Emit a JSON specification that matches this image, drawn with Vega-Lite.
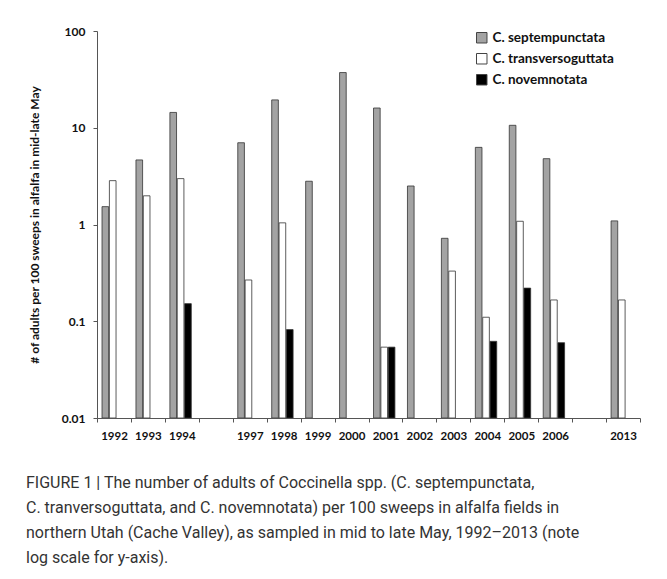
{
  "$schema": "https://vega.github.io/schema/vega-lite/v6.json",
  "autosize": "none",
  "width": 543,
  "height": 387,
  "padding": {"left": 97, "top": 31, "right": 27, "bottom": 161},
  "background": "white",
  "title": {
    "text": [
      "FIGURE 1 | The number of adults of Coccinella spp. (C. septempunctata,",
      "C. tranversoguttata, and C. novemnotata) per 100 sweeps in alfalfa fields in",
      "northern Utah (Cache Valley), as sampled in mid to late May, 1992–2013 (note",
      "log scale for y-axis)."
    ],
    "orient": "bottom",
    "anchor": "start",
    "frame": "group",
    "dx": -71,
    "offset": 33,
    "font": "Roboto, sans-serif",
    "fontSize": 16,
    "fontWeight": "normal",
    "color": "#333333",
    "lineHeight": 25
  },
  "data": {
    "values": [
      {"year": "1992", "species": "C. septempunctata", "value": 1.53},
      {"year": "1992", "species": "C. transversoguttata", "value": 2.84},
      {"year": "1993", "species": "C. septempunctata", "value": 4.65},
      {"year": "1993", "species": "C. transversoguttata", "value": 1.98},
      {"year": "1994", "species": "C. septempunctata", "value": 14.4},
      {"year": "1994", "species": "C. transversoguttata", "value": 2.98},
      {"year": "1994", "species": "C. novemnotata", "value": 0.152},
      {"year": "1997", "species": "C. septempunctata", "value": 7.0},
      {"year": "1997", "species": "C. transversoguttata", "value": 0.267},
      {"year": "1998", "species": "C. septempunctata", "value": 19.4},
      {"year": "1998", "species": "C. transversoguttata", "value": 1.04},
      {"year": "1998", "species": "C. novemnotata", "value": 0.082},
      {"year": "1999", "species": "C. septempunctata", "value": 2.8},
      {"year": "2000", "species": "C. septempunctata", "value": 37.2},
      {"year": "2001", "species": "C. septempunctata", "value": 16.0},
      {"year": "2001", "species": "C. transversoguttata", "value": 0.054},
      {"year": "2001", "species": "C. novemnotata", "value": 0.054},
      {"year": "2002", "species": "C. septempunctata", "value": 2.5},
      {"year": "2003", "species": "C. septempunctata", "value": 0.72},
      {"year": "2003", "species": "C. transversoguttata", "value": 0.33},
      {"year": "2004", "species": "C. septempunctata", "value": 6.27},
      {"year": "2004", "species": "C. transversoguttata", "value": 0.11},
      {"year": "2004", "species": "C. novemnotata", "value": 0.062},
      {"year": "2005", "species": "C. septempunctata", "value": 10.6},
      {"year": "2005", "species": "C. transversoguttata", "value": 1.08},
      {"year": "2005", "species": "C. novemnotata", "value": 0.22},
      {"year": "2006", "species": "C. septempunctata", "value": 4.79},
      {"year": "2006", "species": "C. transversoguttata", "value": 0.166},
      {"year": "2006", "species": "C. novemnotata", "value": 0.06},
      {"year": "2013", "species": "C. septempunctata", "value": 1.09},
      {"year": "2013", "species": "C. transversoguttata", "value": 0.166}
    ]
  },
  "mark": {"type": "bar", "stroke": "#333333", "strokeWidth": 0.8},
  "encoding": {
    "x": {
      "field": "year",
      "type": "nominal",
      "scale": {
        "domain": ["1992", "1993", "1994", "b1", "1997", "1998", "1999", "2000", "2001", "2002", "2003", "2004", "2005", "2006", "b2", "2013"],
        "paddingInner": 0,
        "paddingOuter": 0
      },
      "axis": {
        "title": null,
        "labelAngle": 0,
        "labelExpr": "indexof(datum.label, 'b') == 0 ? '' : datum.label",
        "ticks": true,
        "tickBand": "extent",
        "tickSize": 4,
        "tickWidth": 1,
        "labelPadding": 8,
        "domainColor": "#555555",
        "tickColor": "#555555",
        "labelFont": "Lato, sans-serif",
        "labelFontWeight": "bold",
        "labelFontSize": 11.5,
        "labelColor": "#111111",
        "zindex": 1
      }
    },
    "xOffset": {
      "field": "species",
      "type": "nominal",
      "sort": ["C. septempunctata", "C. transversoguttata", "C. novemnotata"],
      "scale": {"paddingInner": 0.1, "paddingOuter": 0.85, "align": 0.4}
    },
    "y": {
      "field": "value",
      "type": "quantitative",
      "scale": {"type": "log", "domain": [0.01, 100], "nice": false},
      "axis": {
        "title": "# of adults per 100 sweeps in alfalfa in mid-late May",
        "values": [0.01, 0.1, 1, 10, 100],
        "format": "~g",
        "grid": false,
        "ticks": true,
        "tickSize": 4,
        "labelPadding": 8,
        "titlePadding": 20,
        "domainColor": "#555555",
        "tickColor": "#555555",
        "labelFont": "Lato, sans-serif",
        "labelFontWeight": "bold",
        "labelFontSize": 12,
        "labelColor": "#111111",
        "titleFont": "Lato, sans-serif",
        "titleFontWeight": "bold",
        "titleFontSize": 12,
        "titleColor": "#111111",
        "zindex": 1
      }
    },
    "y2": {"datum": 0.01},
    "color": {
      "field": "species",
      "type": "nominal",
      "sort": ["C. septempunctata", "C. transversoguttata", "C. novemnotata"],
      "scale": {
        "domain": ["C. septempunctata", "C. transversoguttata", "C. novemnotata"],
        "range": ["#a3a3a3", "#ffffff", "#000000"]
      },
      "legend": {
        "title": null,
        "orient": "none",
        "legendX": 378,
        "legendY": 0,
        "symbolType": "square",
        "symbolSize": 110,
        "symbolStrokeColor": "#444444",
        "symbolStrokeWidth": 1,
        "labelFont": "Lato, sans-serif",
        "labelFontWeight": "bold",
        "labelFontSize": 13.5,
        "labelColor": "#111111",
        "rowPadding": 6,
        "labelOffset": 4
      }
    }
  },
  "config": {
    "view": {"stroke": null}
  }
}
